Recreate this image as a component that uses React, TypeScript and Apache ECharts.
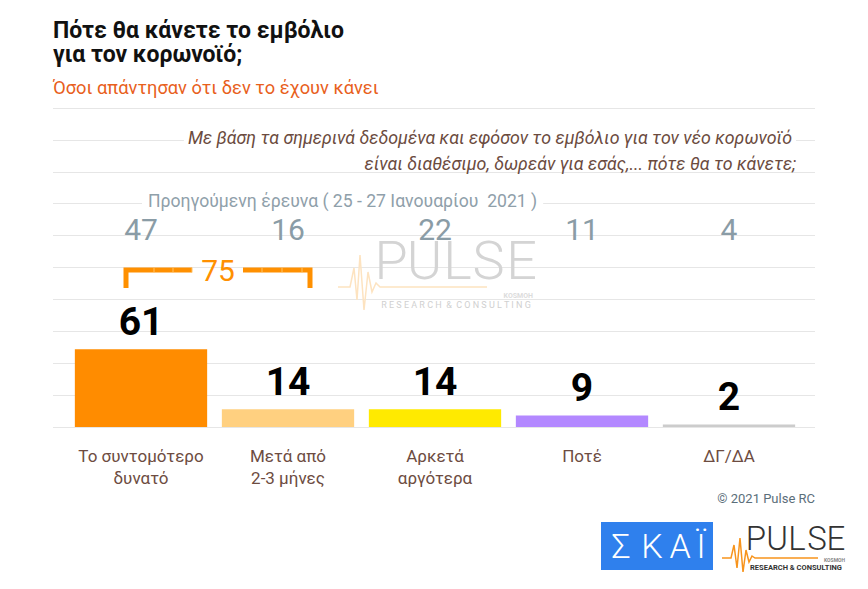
import React, { useEffect, useRef } from "react";
import * as echarts from "echarts";

const categories = ["Το συντομότερο\nδυνατό", "Μετά από\n2-3 μήνες", "Αρκετά\nαργότερα", "Ποτέ", "ΔΓ/ΔΑ"];
const values = [61, 14, 14, 9, 2];
const prevValues = [47, 16, 22, 11, 4];
const barColors = ["#FF8C00", "#FFD080", "#FFEA00", "#B388FF", "#CCCCCC"];
const bracketTotal = 75;
const titleLines = ["Πότε θα κάνετε το εμβόλιο", "για τον κορωνοϊό;"];
const subtitle = "Όσοι απάντησαν ότι δεν το έχουν κάνει";
const questionLines = [
  "Με βάση τα σημερινά δεδομένα και εφόσον το εμβόλιο για τον νέο κορωνοϊό",
  "είναι διαθέσιμο, δωρεάν για εσάς,... πότε θα το κάνετε;",
];
const prevLabel = "Προηγούμενη έρευνα ( 25 - 27 Ιανουαρίου  2021 )";
const copyright = "© 2021 Pulse RC";

const ROBOTO = "Roboto, 'Noto Sans', sans-serif";

export default function App() {
  const ref = useRef<HTMLDivElement>(null);
  useEffect(() => {
    document.body.style.margin = "0";
    const chart = echarts.init(ref.current!, null, { renderer: "svg", width: 868, height: 589 });
    const option: any = {
      animation: false,
      backgroundColor: "#ffffff",
      grid: [
        { left: 53, top: 108, width: 762, height: 319 },
        { left: 67.5, top: 108, width: 735, height: 319 },
      ],
      xAxis: [
        { gridIndex: 0, type: "category", data: categories, show: false },
        {
          gridIndex: 1,
          type: "category",
          data: categories,
          axisLine: { show: false },
          axisTick: { show: false },
          axisLabel: {
            interval: 0,
            color: "#6d4c41",
            fontSize: 17,
            fontFamily: ROBOTO,
            lineHeight: 22,
            margin: 18,
          },
        },
      ],
      yAxis: [
        {
          gridIndex: 0,
          type: "value",
          min: 0,
          max: 250,
          interval: 25,
          axisLine: { show: false },
          axisTick: { show: false },
          axisLabel: { show: false },
          splitLine: { lineStyle: { color: "#e6e6e6", width: 1 } },
        },
        { gridIndex: 1, type: "value", min: 0, max: 250, interval: 25, show: false, splitLine: { show: false } },
      ],
      series: [
        {
          type: "bar",
          xAxisIndex: 1,
          yAxisIndex: 1,
          barCategoryGap: "10%",
          data: values.map((v, i) => ({ value: v, itemStyle: { color: barColors[i] } })),
          label: {
            show: true,
            position: "top",
            distance: 8,
            color: "#000",
            fontSize: 39,
            fontWeight: "bold",
            fontFamily: ROBOTO,
          },
        },
      ],
    };
    chart.setOption(option);

    const cx = categories.map((c) => chart.convertToPixel({ xAxisIndex: 1 } as any, c) as unknown as number);

    const g: any[] = [];
    // titles
    g.push({ type: "text", x: 53, y: 42, style: { text: titleLines.join("\n"), fontSize: 23, lineHeight: 24, fontWeight: "bold", fontFamily: ROBOTO, fill: "#111", verticalAlign: "middle" } });
    g.push({ type: "text", x: 53, y: 87, style: { text: subtitle, fontSize: 18.3, fontFamily: ROBOTO, fill: "#E8601C", verticalAlign: "middle" } });
    // question
    g.push({ type: "text", x: 796, y: 137, z: 10, style: { text: questionLines[0], fontSize: 17.8, fontStyle: "italic", fontFamily: ROBOTO, fill: "#6b4b3e", align: "right", verticalAlign: "middle", backgroundColor: "#fff", padding: [2, 4] } });
    g.push({ type: "text", x: 796, y: 163, z: 10, style: { text: questionLines[1], fontSize: 17.8, fontStyle: "italic", fontFamily: ROBOTO, fill: "#6b4b3e", align: "right", verticalAlign: "middle" } });
    // previous survey
    g.push({ type: "text", x: 142, y: 201, z: 10, style: { text: prevLabel, fontSize: 17.6, fontFamily: ROBOTO, fill: "#8fa0aa", verticalAlign: "middle", backgroundColor: "#fff", padding: [2, 6] } });
    prevValues.forEach((v, i) => {
      g.push({ type: "text", x: cx[i], y: 229, z: 10, style: { text: String(v), fontSize: 30, fontFamily: ROBOTO, fill: "#8a9ca6", align: "center", verticalAlign: "middle", lineHeight: 30 } });
    });
    // bracket
    const bl = cx[0] - 18;
    const br = cx[1] + 25;
    const by = 270;
    const mid = (bl + br) / 2;
    g.push({ type: "polyline", z: 10, shape: { points: [[bl + 3, 288], [bl + 3, by], [mid - 26, by]] }, style: { stroke: "#FF9000", lineWidth: 5, fill: null } });
    g.push({ type: "polyline", z: 10, shape: { points: [[mid + 25, by], [br - 3, by], [br - 3, 288]] }, style: { stroke: "#FF9000", lineWidth: 5, fill: null } });
    [bl + 31, bl + 50, bl + 69, br - 51, br - 31, br - 11].forEach((x) => {
      g.push({ type: "line", z: 11, shape: { x1: x, y1: by - 2.5, x2: x, y2: by + 2.5 }, style: { stroke: "#FFC266", lineWidth: 1 } });
    });
    g.push({ type: "text", x: mid, y: 270, z: 10, style: { text: String(bracketTotal), fontSize: 30, fontFamily: ROBOTO, fill: "#FF9000", align: "center", verticalAlign: "middle" } });
    // watermark
    const wmLetters = ["P", "U", "L", "S", "E"];
    const wmX = [391, 424.5, 457.5, 488.5, 521.5];
    wmLetters.forEach((l, i) => {
      g.push({ type: "text", x: wmX[i], y: 260, z: 5, style: { text: l, fontSize: 54, fontWeight: 300, fontFamily: ROBOTO, fill: "#d4d4d4", align: "center", verticalAlign: "middle", lineHeight: 34 } });
    });
    g.push({ type: "polyline", z: 5, shape: { points: [[338, 287], [350, 287], [354, 268], [357, 300], [360, 255], [364, 310], [368, 272], [372, 292], [376, 283], [380, 287], [487, 287]] }, style: { stroke: "#fde3c0", lineWidth: 1.5, fill: null } });
    g.push({ type: "text", x: 533, y: 296, z: 5, style: { text: "KOSMOH", fontSize: 7, fontWeight: "bold", fontFamily: ROBOTO, fill: "#dcdcdc", align: "right", verticalAlign: "middle", lineHeight: 6 } });
    g.push({ type: "text", x: 456, y: 305, z: 5, style: { text: "R E S E A R C H  &  C O N S U L T I N G", fontSize: 9, fontFamily: ROBOTO, fill: "#d0d0d0", align: "center", verticalAlign: "middle", lineHeight: 8 } });
    // copyright
    g.push({ type: "text", x: 815, y: 498, style: { text: copyright, fontSize: 13, fontFamily: ROBOTO, fill: "#5b6e7a", align: "right", verticalAlign: "middle" } });
    // SKAI logo
    g.push({ type: "rect", shape: { x: 601, y: 522, width: 112, height: 48 }, style: { fill: "#2F80ED" } });
    const skai = ["Σ", "Κ", "Α", "Ϊ"];
    const skaiX = [621, 652, 680, 701];
    skai.forEach((l, i) => {
      g.push({ type: "text", x: skaiX[i], y: 546, style: { text: l, fontSize: 34, fontWeight: 300, fontFamily: ROBOTO, fill: "#ffffff", align: "center", verticalAlign: "middle", lineHeight: 30 } });
    });
    // PULSE logo
    const plX = [756, 777, 797, 817, 836];
    wmLetters.forEach((l, i) => {
      g.push({ type: "text", x: plX[i], y: 538, style: { text: l, fontSize: 33, fontWeight: 300, fontFamily: ROBOTO, fill: "#333333", align: "center", verticalAlign: "middle", lineHeight: 26 } });
    });
    g.push({ type: "polyline", shape: { points: [[722, 558], [731, 558], [734, 545], [737, 568], [740, 538], [743, 572], [746, 550], [749, 562], [752, 556], [755, 558], [818, 558]] }, style: { stroke: "#F7941D", lineWidth: 1.5, fill: null } });
    g.push({ type: "text", x: 845, y: 560, style: { text: "KOSMOH", fontSize: 5, fontWeight: "bold", fontFamily: ROBOTO, fill: "#888", align: "right", verticalAlign: "middle", lineHeight: 5 } });
    g.push({ type: "text", x: 796, y: 567.5, style: { text: "RESEARCH & CONSULTING", fontSize: 7.5, fontWeight: "bold", fontFamily: ROBOTO, fill: "#333", align: "center", verticalAlign: "middle", lineHeight: 7 } });

    chart.setOption({ graphic: g });
    return () => chart.dispose();
  }, []);
  return <div ref={ref} style={{ position: "fixed", left: 0, top: 0, width: 868, height: 589 }} />;
}
